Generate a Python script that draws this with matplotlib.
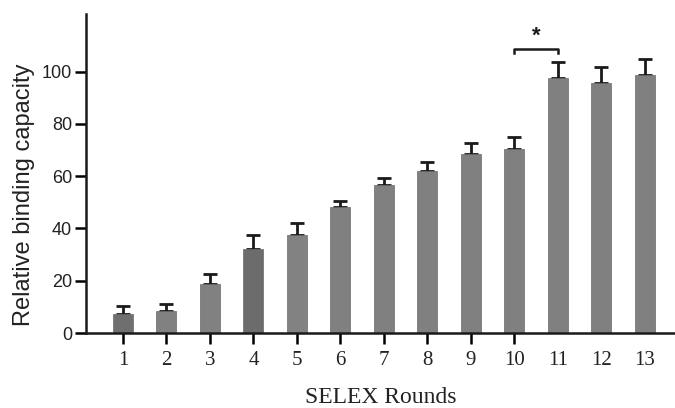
import matplotlib
matplotlib.use('Agg')
import matplotlib.pyplot as plt
import numpy as np

rounds = list(range(1, 14))
values = [7.3, 8.4, 18.7, 32.2, 37.5, 48.2, 56.7, 61.8, 68.5, 70.5, 97.6, 95.8, 98.8]
err_top = [10.3, 11.1, 22.5, 37.5, 42.0, 50.3, 59.3, 65.5, 72.7, 75.0, 103.8, 101.9, 104.9]
errors = [t - v for t, v in zip(err_top, values)]
bar_colors = ['#6f6f6f', '#818181', '#818181', '#6c6c6c', '#828282', '#808080', '#808080',
              '#808080', '#808080', '#808080', '#808080', '#808080', '#808080']
y_ticks = [0, 20, 40, 60, 80, 100]

fig = plt.figure(figsize=(6.75, 4.08), dpi=100)
ax = fig.add_axes([0.1274, 0.1838, 0.8726, 0.7819])

ax.bar(rounds, values, width=0.46, color=bar_colors, edgecolor='#6a6a6a', linewidth=0.5, zorder=2)
ax.errorbar(rounds, values, yerr=[np.zeros(len(values)), errors], fmt='none',
            ecolor='#1a1a1a', elinewidth=2.0, capsize=5, capthick=2.0, zorder=1)

# significance bracket between round 10 and 11
yb = 108.8
ax.plot([10, 10, 11, 11], [107.0, yb, yb, 107.0], color='#1a1a1a', lw=1.8, clip_on=False)
ax.text(10.5, yb + 0.5, '*', ha='center', va='bottom', fontsize=16, fontweight='bold',
        family='Liberation Sans', color='#1a1a1a')

ax.set_xlim(0.15, 13.69)
ax.set_ylim(0, 122)
ax.set_yticks(y_ticks)
ax.set_yticklabels([str(t) for t in y_ticks], family='Liberation Sans', fontsize=13, color='#222222')
ax.set_xticks(rounds)
ax.set_xticklabels([str(r) for r in rounds], family='Liberation Serif', fontsize=15, color='#222222')
ax.tick_params(axis='y', length=8, width=1.8, direction='out', pad=2)
ax.tick_params(axis='x', length=8, width=1.8, direction='out', pad=5)
# only rounds 1-10 carry tick marks
for i, t in enumerate(ax.xaxis.get_major_ticks()):
    if i >= 10:
        t.tick1line.set_visible(False)

for s in ['top', 'right']:
    ax.spines[s].set_visible(False)
for s in ['left', 'bottom']:
    ax.spines[s].set_linewidth(1.8)
    ax.spines[s].set_color('#1a1a1a')

ax.set_ylabel('Relative binding capacity', family='Liberation Sans', fontsize=17, color='#222222',
              va='center')
ax.yaxis.set_label_coords(-0.105, 0.433)
ax.set_xlabel('SELEX Rounds', family='Liberation Serif', fontsize=17, color='#222222', labelpad=12)

fig.savefig('out.png', dpi=100)
